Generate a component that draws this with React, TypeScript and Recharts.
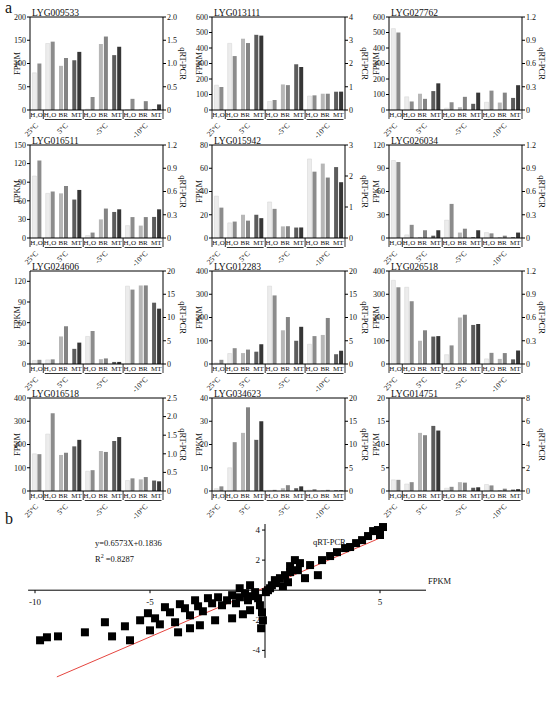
import React from "react";
import {
  BarChart,
  Bar,
  XAxis,
  YAxis,
  Cell,
  ReferenceLine,
  ScatterChart,
  Scatter,
  ZAxis,
} from "recharts";

const FONT = "'Liberation Serif', 'Times New Roman', serif";

// categories
const treatments = ["H₂O", "H₂O", "BR", "MT", "H₂O", "BR", "MT", "H₂O", "BR", "MT"];
const temperatures = ["25°C", "5°C", "5°C", "5°C", "-5°C", "-5°C", "-5°C", "-10°C", "-10°C", "-10°C"];

// left (FPKM) and right (qRT-PCR) values per gene
const fpkm009533 = [80, 143, 95, 107, 2, 142, 118, 1, 1, 2];
const qpcr009533 = [1.0, 1.47, 1.12, 1.25, 0.28, 1.58, 1.36, 0.24, 0.19, 0.12];
const fpkm013111 = [160, 430, 460, 485, 55, 165, 295, 90, 105, 118];
const qpcr013111 = [0.99, 2.32, 2.88, 3.2, 0.43, 1.07, 1.85, 0.63, 0.7, 0.79];
const fpkm027762 = [525, 85, 105, 122, 12, 18, 40, 50, 48, 78];
const qpcr027762 = [1.0, 0.11, 0.144, 0.344, 0.1, 0.17, 0.224, 0.25, 0.224, 0.32];
const fpkm016511 = [100, 72, 72, 62, 4, 30, 42, 20, 20, 34];
const qpcr016511 = [1.0, 0.6, 0.67, 0.62, 0.07, 0.38, 0.37, 0.27, 0.27, 0.37];
const fpkm015942 = [36, 13, 20, 20, 31, 10, 9, 68, 64, 61];
const qpcr015942 = [0.98, 0.53, 0.56, 0.64, 0.94, 0.38, 0.34, 2.14, 1.95, 1.8];
const fpkm026034 = [100, 4, 1, 3, 23, 7, 1, 7, 1, 1];
const qpcr026034 = [0.98, 0.17, 0.1, 0.1, 0.44, 0.12, 0.1, 0.06, 0.03, 0.07];
const fpkm024606 = [5, 6, 40, 22, 40, 7, 3, 113, 114, 89];
const qpcr024606 = [0.9, 1.0, 8.1, 4.6, 7.1, 1.2, 0.45, 16, 16.9, 11.9];
const fpkm012283 = [5, 45, 47, 53, 335, 145, 100, 85, 125, 42];
const qpcr012283 = [0.9, 3.4, 3.1, 4.25, 14.75, 10.1, 8, 6, 9.9, 2.85];
const fpkm026518 = [360, 330, 100, 118, 40, 200, 168, 22, 22, 20];
const qpcr026518 = [0.99, 0.81, 0.435, 0.36, 0.24, 0.636, 0.516, 0.144, 0.141, 0.174];
const fpkm016518 = [160, 245, 155, 192, 85, 172, 215, 45, 50, 45];
const qpcr016518 = [0.99, 2.09, 1.03, 1.375, 0.56, 1.05, 1.45, 0.34, 0.375, 0.26];
const fpkm034623 = [1, 10, 25, 22, 0.3, 1.2, 1.2, 0.4, 0.3, 0.3];
const qpcr034623 = [1.0, 10.5, 18, 15, 0.25, 1.25, 1.0, 0.4, 0.25, 0.15];
const fpkm014751 = [2.4, 1.5, 12.5, 14, 0.6, 1.9, 0.7, 1.4, 0.2, 0.3];
const qpcr014751 = [0.96, 0.76, 4.8, 5.2, 0.36, 0.72, 0.32, 0.48, 0.2, 0.16];

// tick labels
const fTicks200 = [0, 50, 100, 150, 200];
const fTicks600 = [0, 100, 200, 300, 400, 500, 600];
const fTicks150 = [0, 30, 60, 90, 120, 150];
const fTicks80 = [0, 20, 40, 60, 80];
const fTicks120 = [0, 30, 60, 90, 120];
const fTicks400 = [0, 100, 200, 300, 400];
const fTicks40 = [0, 10, 20, 30, 40];
const fTicks20 = [0, 5, 10, 15, 20];
const qTicks2 = [0, 0.5, 1, 1.5, 2];
const qTicks4 = [0, 1, 2, 3, 4];
const qTicks12 = [0, 0.3, 0.6, 0.9, 1.2];
const qTicks3 = [0, 1, 2, 3];
const qTicks20 = [0, 5, 10, 15, 20];
const qTicks25 = [0, 0.5, 1, 1.5, 2, 2.5];
const qTicks8 = [0, 2, 4, 6, 8];

type Gene = {
  name: string;
  fpkm: number[];
  qpcr: number[];
  fMax: number;
  fTicks: number[];
  qMax: number;
  qTicks: number[];
  qDec: boolean;
};

const genes: Gene[] = [
  { name: "LYG009533", fpkm: fpkm009533, qpcr: qpcr009533, fMax: 200, fTicks: fTicks200, qMax: 2, qTicks: qTicks2, qDec: true },
  { name: "LYG013111", fpkm: fpkm013111, qpcr: qpcr013111, fMax: 600, fTicks: fTicks600, qMax: 4, qTicks: qTicks4, qDec: false },
  { name: "LYG027762", fpkm: fpkm027762, qpcr: qpcr027762, fMax: 600, fTicks: fTicks600, qMax: 1.2, qTicks: qTicks12, qDec: true },
  { name: "LYG016511", fpkm: fpkm016511, qpcr: qpcr016511, fMax: 150, fTicks: fTicks150, qMax: 1.2, qTicks: qTicks12, qDec: true },
  { name: "LYG015942", fpkm: fpkm015942, qpcr: qpcr015942, fMax: 80, fTicks: fTicks80, qMax: 3, qTicks: qTicks3, qDec: false },
  { name: "LYG026034", fpkm: fpkm026034, qpcr: qpcr026034, fMax: 120, fTicks: fTicks120, qMax: 1.2, qTicks: qTicks12, qDec: true },
  { name: "LYG024606", fpkm: fpkm024606, qpcr: qpcr024606, fMax: 135, fTicks: fTicks120, qMax: 20, qTicks: qTicks20, qDec: false },
  { name: "LYG012283", fpkm: fpkm012283, qpcr: qpcr012283, fMax: 400, fTicks: fTicks400, qMax: 20, qTicks: qTicks20, qDec: false },
  { name: "LYG026518", fpkm: fpkm026518, qpcr: qpcr026518, fMax: 400, fTicks: fTicks400, qMax: 1.2, qTicks: qTicks12, qDec: true },
  { name: "LYG016518", fpkm: fpkm016518, qpcr: qpcr016518, fMax: 400, fTicks: fTicks400, qMax: 2.5, qTicks: qTicks25, qDec: true },
  { name: "LYG034623", fpkm: fpkm034623, qpcr: qpcr034623, fMax: 40, fTicks: fTicks40, qMax: 20, qTicks: qTicks20, qDec: false },
  { name: "LYG014751", fpkm: fpkm014751, qpcr: qpcr014751, fMax: 20, fTicks: fTicks20, qMax: 8, qTicks: qTicks8, qDec: false },
];

// panel b: FPKM vs qRT-PCR (log2 fold change)
const scatterFpkm = [
  5.13, 4.91, 4.7, 5.0, 4.48, 4.22, 3.96, 3.7, 3.48, 3.13, 2.83, 2.48, 1.96, 1.52, 1.3, 1.09,
  1.43, 0.87, 0.65, 0.48, 0.3, 0.22, 0.13, 0.04, 2.3, 1.74, 1.0, 0.78, 0.43, 1.09,
  -9.78, -9.48, -9.0, -7.83, -6.96, -6.65, -6.09, -5.87, -5.43, -5.09, -4.78, -4.57, -4.35,
  -4.13, -3.91, -3.7, -3.48, -3.26, -3.04, -2.91, -2.7, -2.48, -2.3, -2.04, -1.87, -1.65,
  -1.43, -1.26, -1.09, -0.87, -0.74, -0.57, -0.43, -0.3, -0.22, -0.13, -0.09, -0.17, -0.65,
  -0.96, -1.43, -2.17, -2.83, -3.26, -3.78, -5.0, -0.65, -1.1,
];
const scatterQpcr = [
  4.2, 4.0, 3.93, 3.67, 3.6, 3.33, 3.13, 2.87, 2.8, 2.53, 2.27, 2.0, 1.67, 1.8, 2.0, 1.6,
  1.33, 1.0, 0.8, 0.47, 0.33, 0.13, 0.0, -0.13, 1.0, 0.8, 0.53, 0.27, 0.67, 1.2,
  -3.33, -3.13, -3.07, -2.8, -2.13, -3.07, -2.4, -3.33, -2.0, -1.53, -1.87, -2.27, -1.13,
  -1.47, -2.13, -0.93, -1.2, -1.67, -0.67, -1.07, -1.4, -0.53, -0.87, -0.47, -1.0, -0.67,
  -0.33, -0.87, -0.47, -0.2, -0.67, -0.4, -0.13, -0.53, -1.0, -1.47, -2.0, -2.53, -1.33,
  -1.6, -1.87, -2.0, -2.33, -2.53, -2.8, -2.67, 0.33, 0.13,
];
const fitSlope = 0.6573;
const fitIntercept = 0.1836;
const fitRange = [-9.05, 5.15];
const scatterXTicks = [-10, -5, 5];
const scatterYTicks = [-4, -2, 2, 4];

const lightFill: Record<string, string> = { "H₂O": "#ececec", BR: "#b7b7b7", MT: "#5c5c5c" };
const darkFill: Record<string, string> = { "H₂O": "#8c8c8c", BR: "#848484", MT: "#363636" };

const PLOT_W = 133;
const PLOT_H = 93;
const AX_W = 30;
const TOP_M = 12;
const T_AX_H = 9;
const G_AX_H = 21;
const CHART_W = PLOT_W + 2 * AX_W;
const CHART_H = TOP_M + PLOT_H + T_AX_H + G_AX_H;
const colLeft = [0, 182, 359];
const rowTop = [5, 133, 259, 386];

// centre index and size of each temperature group
const groupCenters: Record<number, { label: string; span: number }> = {};
{
  let s = 0;
  for (let i = 1; i <= temperatures.length; i++) {
    if (i === temperatures.length || temperatures[i] !== temperatures[s]) {
      groupCenters[Math.floor((s + i - 1) / 2)] = { label: temperatures[s], span: i - s };
      s = i;
    }
  }
}

const slot = PLOT_W / treatments.length;

const TreatTick = (props: any) => {
  const { x, y, index, payload } = props;
  const start = index === 0 || temperatures[index] !== temperatures[index - 1];
  const last = index === treatments.length - 1;
  return (
    <g>
      {start && (
        <line x1={x - slot / 2} x2={x - slot / 2} y1={y} y2={y + T_AX_H} stroke="#000" strokeWidth={0.8} />
      )}
      {last && (
        <line x1={x + slot / 2} x2={x + slot / 2} y1={y} y2={y + T_AX_H} stroke="#000" strokeWidth={0.8} />
      )}
      <text x={x} y={y + 7} textAnchor="middle" fontSize={7} fontFamily={FONT} fill="#111">
        {payload.value}
      </text>
    </g>
  );
};

const TempTick = (props: any) => {
  const { x, y, index } = props;
  const g = groupCenters[index];
  if (!g) return <g />;
  const half = (g.span * slot) / 2;
  const ex = x + (g.span > 1 ? 5 : 2);
  const ey = y + 7;
  return (
    <g>
      {g.span > 1 && (
        <line x1={x - half + 1.5} x2={x + half - 1.5} y1={y + 0.5} y2={y + 0.5} stroke="#000" strokeWidth={0.8} />
      )}
      <text
        x={ex}
        y={ey}
        transform={`rotate(-45 ${ex} ${ey})`}
        textAnchor="end"
        fontSize={7.5}
        fontFamily={FONT}
        fill="#111"
      >
        {g.label}
      </text>
    </g>
  );
};

const tickStyle = { fontSize: 8, fontFamily: FONT, fill: "#111", stroke: "none" };

const GenePanel = ({ g, left, top }: { g: Gene; left: number; top: number }) => {
  const data = treatments.map((t, i) => ({ t, temp: temperatures[i], f: g.fpkm[i], q: g.qpcr[i] }));
  const fmtQ = (v: number) => (v === 0 ? "0" : g.qDec ? v.toFixed(1) : String(v));
  return (
    <div style={{ position: "absolute", left, top, width: CHART_W, height: CHART_H }}>
      <BarChart
        width={CHART_W}
        height={CHART_H}
        data={data}
        margin={{ top: TOP_M, right: 0, bottom: 0, left: 0 }}
        barCategoryGap="18%"
        barGap={1}
      >
        <XAxis
          xAxisId="xa"
          dataKey="t"
          height={T_AX_H}
          interval={0}
          tickLine={false}
          tickSize={0}
          tickMargin={0}
          axisLine={{ stroke: "#000" }}
          tick={(p: any) => <TreatTick {...p} />}
        />
        <XAxis
          xAxisId="xb"
          dataKey="temp"
          height={G_AX_H}
          interval={0}
          tickLine={false}
          tickSize={0}
          tickMargin={0}
          axisLine={false}
          tick={(p: any) => <TempTick {...p} />}
        />
        <YAxis
          yAxisId="l"
          domain={[0, g.fMax]}
          ticks={g.fTicks}
          interval={0}
          width={AX_W}
          tickSize={3}
          tickMargin={1}
          axisLine={{ stroke: "#000" }}
          tickLine={{ stroke: "#000" }}
          tick={tickStyle}
          label={(p: any) => {
            const vb = p.viewBox;
            const cx = vb.x + vb.width - 13;
            const cy = vb.y + vb.height / 2;
            return (
              <text x={cx} y={cy} transform={`rotate(-90 ${cx} ${cy})`} textAnchor="middle" dominantBaseline="central" fontSize={8.5} fontFamily={FONT} fill="#111">
                FPKM
              </text>
            );
          }}
        />
        <YAxis
          yAxisId="r"
          orientation="right"
          domain={[0, g.qMax]}
          ticks={g.qTicks}
          interval={0}
          width={AX_W}
          tickSize={3}
          tickMargin={1}
          tickFormatter={fmtQ}
          axisLine={{ stroke: "#000" }}
          tickLine={{ stroke: "#000" }}
          tick={tickStyle}
          label={(p: any) => {
            const vb = p.viewBox;
            const cx = vb.x + 20;
            const cy = vb.y + vb.height / 2;
            return (
              <text x={cx} y={cy} transform={`rotate(90 ${cx} ${cy})`} textAnchor="middle" dominantBaseline="central" fontSize={8.5} fontFamily={FONT} fill="#111">
                qRT-PCR
              </text>
            );
          }}
        />
        <ReferenceLine
          xAxisId="xa"
          yAxisId="l"
          y={g.fMax}
          stroke="#000"
          strokeWidth={1}
          label={(p: any) => (
            <text x={p.viewBox.x + 2} y={p.viewBox.y - 1.5} fontSize={9.5} fontFamily={FONT} fill="#111">
              {g.name}
            </text>
          )}
        />
        <Bar xAxisId="xa" yAxisId="l" dataKey="f" isAnimationActive={false}>
          {data.map((d, i) => (
            <Cell key={i} fill={lightFill[d.t]} stroke={d.t === "H₂O" ? "#d2d2d2" : "none"} strokeWidth={0.5} />
          ))}
        </Bar>
        <Bar xAxisId="xa" yAxisId="r" dataKey="q" isAnimationActive={false}>
          {data.map((d, i) => (
            <Cell key={i} fill={darkFill[d.t]} />
          ))}
        </Bar>
      </BarChart>
    </div>
  );
};

const ScatterPanel = () => {
  const points = scatterFpkm.map((x, i) => ({ x, y: scatterQpcr[i] }));
  const fit = fitRange.map((x) => ({ x, y: fitSlope * x + fitIntercept }));
  return (
    <div style={{ position: "absolute", left: 12, top: 515, width: 437, height: 188 }}>
      <ScatterChart width={437} height={188} margin={{ top: 0, right: 0, bottom: 0, left: 0 }}>
        <XAxis type="number" dataKey="x" domain={[-11, 8]} hide />
        <YAxis type="number" dataKey="y" domain={[-7.5, 5]} hide />
        <ZAxis range={[22, 22]} />
        <ReferenceLine segment={[{ x: -10.3, y: 0 }, { x: 7, y: 0 }]} stroke="#000" strokeWidth={1} />
        <ReferenceLine segment={[{ x: 0, y: -4.5 }, { x: 0, y: 4.4 }]} stroke="#000" strokeWidth={1} />
        {scatterXTicks.map((t) => (
          <ReferenceLine
            key={"x" + t}
            segment={[{ x: t, y: 0 }, { x: t, y: -0.2 }]}
            stroke="#000"
            label={(p: any) => (
              <text x={p.viewBox.x} y={p.viewBox.y + 15} textAnchor="middle" fontSize={9} fontFamily={FONT} fill="#111">
                {t}
              </text>
            )}
          />
        ))}
        {scatterYTicks.map((t) => (
          <ReferenceLine
            key={"y" + t}
            segment={[{ x: -0.13, y: t }, { x: 0, y: t }]}
            stroke="#000"
            label={(p: any) => (
              <text x={p.viewBox.x - 2} y={p.viewBox.y + 3} textAnchor="end" fontSize={9} fontFamily={FONT} fill="#111">
                {t}
              </text>
            )}
          />
        ))}
        <ReferenceLine segment={fit} stroke="#e5453f" strokeWidth={1} />
        <Scatter data={points} fill="#000" shape="square" isAnimationActive={false} />
      </ScatterChart>
    </div>
  );
};

const textStyle: React.CSSProperties = {
  position: "absolute",
  fontFamily: FONT,
  color: "#111",
  lineHeight: 1,
  whiteSpace: "nowrap",
};

export default function App() {
  return (
    <div
      style={{
        position: "absolute",
        left: 0,
        top: 0,
        width: 550,
        height: 706,
        background: "#fff",
        overflow: "hidden",
        fontFamily: FONT,
      }}
    >
      {genes.map((g, i) => (
        <GenePanel key={g.name} g={g} left={colLeft[i % 3]} top={rowTop[Math.floor(i / 3)]} />
      ))}
      <ScatterPanel />
      <div style={{ ...textStyle, left: 5, top: 0, fontSize: 16 }}>a</div>
      <div style={{ ...textStyle, left: 5, top: 511, fontSize: 16 }}>b</div>
      <div style={{ ...textStyle, left: 95, top: 539, fontSize: 8.5 }}>y=0.6573X+0.1836</div>
      <div style={{ ...textStyle, left: 95, top: 553, fontSize: 8.5 }}>
        R<sup style={{ fontSize: 6 }}>2</sup> =0.8287
      </div>
      <div style={{ ...textStyle, left: 313, top: 538, fontSize: 8.5 }}>qRT-PCR</div>
      <div style={{ ...textStyle, left: 428, top: 577, fontSize: 8.5 }}>FPKM</div>
    </div>
  );
}
